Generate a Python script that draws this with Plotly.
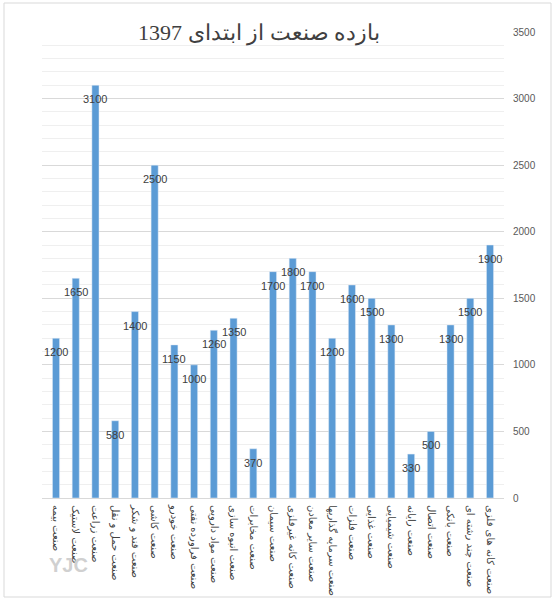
import plotly.graph_objects as go

industries = [
    "صنعت بیمه", "صنعت لاستیک", "صنعت زراعت", "صنعت حمل و نقل", "صنعت قند و شکر",
    "صنعت کاشی", "صنعت خودرو", "صنعت فراورده نفتی", "صنعت مواد دارویی", "صنعت انبوه سازی",
    "صنعت مخابرات", "صنعت سیمان", "صنعت کانه غیرفلزی", "صنعت سایر معادن",
    "صنعت سرمایه گذاریها", "صنعت فلزات", "صنعت غذایی", "صنعت شیمیایی", "صنعت رایانه",
    "صنعت اتصال", "صنعت بانکی", "صنعت چند رشته ای", "صنعت کانه های فلزی",
]
returns = [1200, 1650, 3100, 580, 1400, 2500, 1150, 1000, 1260, 1350, 370, 1700,
           1800, 1700, 1200, 1600, 1500, 1300, 330, 500, 1300, 1500, 1900]
y_ticks = [0, 500, 1000, 1500, 2000, 2500, 3000, 3500]

W, H = 556, 602
L, R, T, B = 42, 52, 32, 104
pw, ph = W - L - R, H - T - B

fig = go.Figure()
fig.add_trace(go.Bar(
    x=industries, y=returns,
    marker_color="#5B9BD5",
    hoverinfo="x+y",
))

# value labels sit just inside the bar tops
labels = [
    dict(x=name, y=v, xref="x", yref="y", text=str(v), showarrow=False,
         yanchor="middle", yshift=-14,
         font=dict(family="Liberation Sans, Arial", size=11, color="#404040"))
    for name, v in zip(industries, returns)
]

fig.update_layout(
    width=W, height=H,
    margin=dict(l=L, r=R, t=T, b=B),
    paper_bgcolor="white",
    plot_bgcolor="white",
    showlegend=False,
    bargap=0.64,
    font=dict(family="Liberation Sans, Arial", color="#595959"),
    xaxis=dict(
        automargin=False,
        tickangle=90,
        tickfont=dict(family="DejaVu Sans", size=10, color="#404040"),
        showgrid=False,
        showline=True,
        linecolor="#d9d9d9",
        ticks="",
        ticklabelstandoff=4,
    ),
    yaxis=dict(
        automargin=False,
        side="right",
        range=[0, 3500],
        tickvals=y_ticks,
        tickfont=dict(size=10, color="#595959"),
        ticklabelstandoff=8,
        showgrid=True,
        gridcolor="#d9d9d9",
        zeroline=False,
        minor=dict(dtick=100, showgrid=True, gridcolor="#efefef"),
        fixedrange=True,
    ),
    annotations=labels + [
        dict(
            text="بازده صنعت از ابتدای 1397",
            xref="paper", yref="paper",
            x=(259 - L) / pw, y=(H - 33 - B) / ph,
            xanchor="center", yanchor="middle",
            showarrow=False,
            font=dict(family="Liberation Serif, Times New Roman", size=22, color="#404040"),
        ),
        dict(
            text="<b>YJC</b>",
            xref="paper", yref="paper",
            x=(68 - L) / pw, y=(H - 565 - B) / ph,
            xanchor="center", yanchor="middle",
            showarrow=False,
            font=dict(family="Liberation Sans", size=20, color="#d0d0d0"),
        ),
    ],
    shapes=[
        dict(
            type="rect", xref="paper", yref="paper",
            x0=(4 - L) / pw, x1=(551 - L) / pw,
            y0=(H - 597 - B) / ph, y1=(H - 3 - B) / ph,
            line=dict(color="#d9d9d9", width=1),
            layer="below",
        )
    ],
)

# drop the browser's default body margin so the figure sits at the page corner
fig.write_html("out.html", config={"displayModeBar": False},
               post_script="document.body.style.margin='0';")
